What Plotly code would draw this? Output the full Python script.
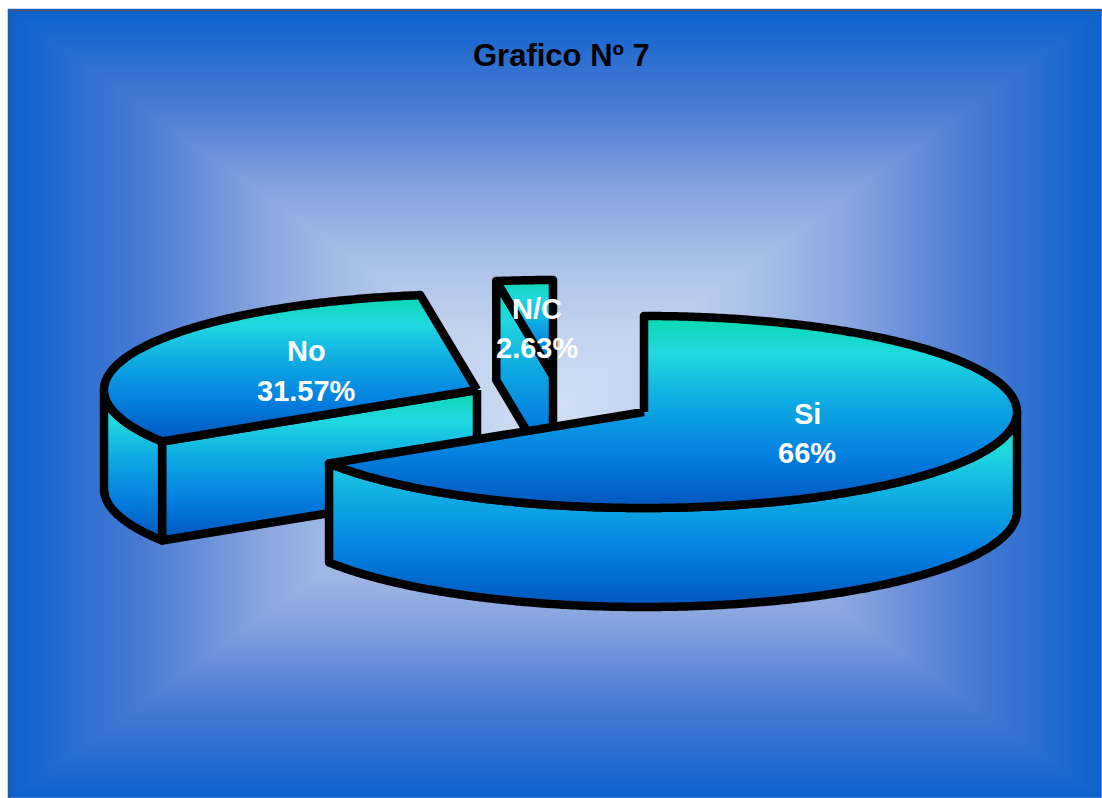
import numpy as np
import plotly.graph_objects as go

# ---- chart data -------------------------------------------------
title_text = "Grafico Nº 7"
categories = ["Si", "No", "N/C"]
values = [66, 31.57, 2.63]
value_labels = ["66%", "31.57%", "2.63%"]

# ---- layout constants -------------------------------------------
W, H = 1102, 798
RX, RY, DEPTH = 373, 96, 99
centers = {"Si": (644, 412), "No": (477, 390), "N/C": (553, 376)}
label_pos = {"Si": (807, 414, 453), "No": (306, 351, 391), "N/C": (537, 309, 348)}
draw_order = ["N/C", "No", "Si"]
INK = "#000000"
LW = 8.5
GRAD = [[0, "#0cd8b0"], [0.2, "#20d8e0"], [0.45, "#0eaae2"], [0.72, "#0480e0"], [1, "#0055bd"]]
BG = [[0, "#d0dff4"], [0.2, "#c0d2ee"], [0.37, "#a9c0e7"], [0.52, "#8ea8e0"],
      [0.75, "#4c7cd4"], [1, "#0c62cc"]]


def point(c, deg, dy=0):
    t = np.radians(deg)
    return c[0] + RX * np.sin(t), c[1] - RY * np.cos(t) + dy


def arc(c, a, b, dy=0):
    n = max(2, int(abs(b - a)) * 2 + 2)
    ts = np.linspace(a, b, n)
    return point(c, ts, dy)


fig = go.Figure()

# background: rectangular "from centre" gradient
bx = np.linspace(10, W, 240)
by = np.linspace(11, H, 180)
cx, cy, hw, hh = 556, 405, 546, 394
Z = np.maximum(np.abs(bx - cx)[None, :] / hw, np.abs(by - cy)[:, None] / hh)
fig.add_trace(go.Heatmap(x=bx, y=by, z=Z, zmin=0, zmax=1, colorscale=BG, showscale=False,
                         zsmooth="best", hoverinfo="skip"))


def add_poly(xs, ys):
    xs = list(xs) + [xs[0]]
    ys = list(ys) + [ys[0]]
    fig.add_trace(go.Scatter(
        x=xs, y=ys, mode="lines", fill="toself",
        fillgradient=dict(type="vertical", colorscale=GRAD, start=min(ys), stop=max(ys)),
        line=dict(color=INK, width=LW, simplify=False), hoverinfo="skip", showlegend=False))


# slice angles, clockwise from 12 o'clock
angles = {}
acc = 0.0
for name, v in zip(categories, values):
    angles[name] = (acc, min(acc + v * 3.6, 360.0))
    acc += v * 3.6

for name in draw_order:
    c = centers[name]
    a, b = angles[name]
    # radial wall on the start boundary, visible when it faces the viewer
    if np.sin(np.radians(a)) < -1e-6:
        ox, oy = point(c, a)
        add_poly([c[0], ox, ox, c[0]], [c[1], oy, oy + DEPTH, c[1] + DEPTH])
    # outer wall, front half only
    lo, hi = max(a, 90), min(b, 270)
    if hi > lo:
        tx, ty = arc(c, lo, hi)
        bxs, bys = arc(c, hi, lo, DEPTH)
        add_poly(np.r_[tx, bxs], np.r_[ty, bys])
    # top face
    tx, ty = arc(c, a, b)
    add_poly(np.r_[c[0], tx], np.r_[c[1], ty])

annotations = []
for name, vt in zip(categories, value_labels):
    x, y1, y2 = label_pos[name]
    for txt, y in ((name, y1), (vt, y2)):
        annotations.append(dict(x=x, y=y, xref="x", yref="y", text=txt, showarrow=False,
                                font=dict(family="Liberation Sans", size=29, color="white", weight="bold")))
annotations.append(dict(x=561, y=55, xref="x", yref="y", text=title_text, showarrow=False,
                        font=dict(family="Liberation Sans", size=31, color="black", weight="bold")))

fig.update_layout(
    width=W, height=H, margin=dict(l=0, r=0, t=0, b=0), paper_bgcolor="white", plot_bgcolor="white",
    showlegend=False, annotations=annotations,
    xaxis=dict(range=[0, W], visible=False, fixedrange=True),
    yaxis=dict(range=[H, 0], visible=False, fixedrange=True),
    shapes=[dict(type="line", xref="x", yref="y", x0=9.5, x1=9.5, y0=10.5, y1=H, line=dict(color="#505468", width=1.5)),
            dict(type="line", xref="x", yref="y", x0=9.5, x1=W, y0=10.5, y1=10.5, line=dict(color="#505468", width=1.5))],
)
post = """
document.body.style.margin = '0';
document.documentElement.style.overflow = 'hidden';
var s = document.createElement('style');
s.textContent = '.js-line{stroke-linejoin:round !important;}';
document.head.appendChild(s);
"""
fig.write_html("out.html", config={"displayModeBar": False}, post_script=post)
